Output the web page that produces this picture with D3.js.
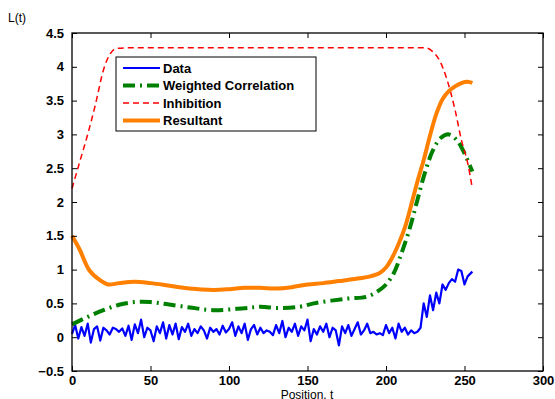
<!DOCTYPE html>
<html>
<head>
<meta charset="utf-8">
<script src="https://cdn.jsdelivr.net/npm/d3@7"></script>
<style>
  body { margin: 0; background: #fff; }
  text { font-family: "Liberation Sans", Arial, sans-serif; }
</style>
</head>
<body>
<svg id="chart"></svg>
<script>
// x positions of the noisy data samples
let dataT = d3.range(0, 253, 2).concat([255])
let dataVals = [
  0.05, 0.18, -0.02, 0.15, 0.02, 0.2, -0.08, 0.12, 0.16, -0.05,
  0.14, 0.1, 0.04, 0.14, 0.12, 0.08, 0.13, 0.02, 0.17, -0.04,
  0.19, 0.06, 0.26, 0.0, 0.14, 0.1, -0.06, 0.16, 0.06, 0.22,
  -0.02, 0.18, 0.04, 0.2, -0.03, 0.15, 0.08, 0.2, 0.02, 0.12,
  0.06, 0.16, 0.1, -0.02, 0.14, 0.08, 0.12, 0.04, 0.17, 0.07,
  0.12, 0.22, 0.02, 0.16, 0.06, 0.2, -0.04, 0.12, 0.18, 0.04,
  0.14, 0.06, 0.1, 0.08, 0.03, 0.18, 0.06, 0.24, 0.0, 0.14,
  0.08, 0.2, 0.02, 0.16, 0.1, 0.26, -0.06, 0.12, 0.04, 0.16,
  0.08, 0.2, 0.0, 0.14, 0.1, -0.12, 0.16, 0.06, 0.18, 0.02,
  0.12, 0.22, 0.04, 0.1, 0.2, 0.06, 0.08, 0.04, 0.06, 0.03,
  0.18, 0.06, 0.14, -0.02, 0.2, 0.08, 0.14, 0.04, 0.1, 0.06,
  0.08, 0.14, 0.5, 0.3, 0.62, 0.4, 0.66, 0.5, 0.78, 0.7,
  0.8, 0.86, 0.82, 1.0, 0.98, 0.78, 0.9, 0.97
]

// smooth curves, read at a few positions
let corrT = [0, 10, 20, 30, 40, 50, 60, 75, 90, 110, 120, 132, 145, 154, 175, 188, 196, 200, 205, 210, 215, 220, 225, 230, 235, 240, 245, 250, 255]
let corrVals = [0.19, 0.3, 0.4, 0.48, 0.52, 0.52, 0.49, 0.44, 0.4, 0.43, 0.45, 0.43, 0.45, 0.5, 0.57, 0.6, 0.7, 0.78, 0.95, 1.25, 1.6, 2.03, 2.45, 2.77, 2.95, 3.0, 2.92, 2.72, 2.45]

let inhibT = [0, 5, 10, 15, 20, 24, 28, 35, 225, 230, 234, 239, 244, 248, 252, 255]
let inhibVals = [2.2, 2.6, 3.0, 3.45, 3.95, 4.18, 4.27, 4.28, 4.28, 4.22, 4.1, 3.8, 3.36, 2.92, 2.58, 2.2]

let resT = [0, 5, 11, 18, 23, 30, 40, 50, 60, 75, 90, 100, 110, 120, 130, 140, 150, 160, 170, 180, 190, 196, 200, 204, 208, 212, 216, 220, 224, 228, 232, 236, 240, 244, 248, 252, 255]
let resVals = [1.5, 1.29, 0.99, 0.84, 0.78, 0.8, 0.82, 0.8, 0.77, 0.72, 0.7, 0.71, 0.73, 0.73, 0.72, 0.74, 0.78, 0.8, 0.83, 0.86, 0.9, 0.95, 1.03, 1.18, 1.38, 1.62, 1.95, 2.3, 2.62, 2.98, 3.3, 3.52, 3.64, 3.71, 3.76, 3.78, 3.76]

let xTicks = [0, 50, 100, 150, 200, 250, 300]
let yTicks = [-0.5, 0, 0.5, 1, 1.5, 2, 2.5, 3, 3.5, 4, 4.5]
let legendNames = ["Data", "Weighted Correlation", "Inhibition", "Resultant"]

let svg = d3.select("#chart").attr("width", 555).attr("height", 399)
let box = {left: 72, right: 543, top: 33, bottom: 371}

let x = d3.scaleLinear().domain([0, 300]).range([box.left, box.right])
let y = d3.scaleLinear().domain([-0.5, 4.5]).range([box.bottom, box.top])

// series styles
let styles = [
    {color: "#0000ff", width: 2.2, dash: null},
    {color: "#008000", width: 4, dash: "12,5,2,5"},
    {color: "#ff0000", width: 1.5, dash: "6,4"},
    {color: "#ff8000", width: 4, dash: null}
]

function drawSeries(ts, vals, st, curve) {
    let pts = ts.map((t, i) => [t, vals[i]])
    svg.append("path")
        .datum(pts)
        .attr("fill", "none")
        .attr("stroke", st.color)
        .attr("stroke-width", st.width)
        .attr("stroke-dasharray", st.dash)
        .attr("stroke-linejoin", "round")
        .attr("d", d3.line().x(d => x(d[0])).y(d => y(d[1])).curve(curve))
}

drawSeries(dataT, dataVals, styles[0], d3.curveLinear)
drawSeries(corrT, corrVals, styles[1], d3.curveCatmullRom)
drawSeries(inhibT, inhibVals, styles[2], d3.curveMonotoneX)
drawSeries(resT, resVals, styles[3], d3.curveCatmullRom)

// axes: ticks inside, on all four sides
let tick = 5
let xAxisB = d3.axisBottom(x).tickValues(xTicks).tickSizeInner(-tick).tickSizeOuter(0).tickPadding(5)
let xAxisT = d3.axisTop(x).tickValues(xTicks).tickSizeInner(-tick).tickSizeOuter(0).tickFormat("")
let yAxisL = d3.axisLeft(y).tickValues(yTicks).tickSizeInner(-tick).tickSizeOuter(0).tickPadding(8).tickFormat(d => d < 0 ? "\u22120.5" : d3.format("")(d))
let yAxisR = d3.axisRight(y).tickValues(yTicks).tickSizeInner(-tick).tickSizeOuter(0).tickFormat("")

svg.append("g").attr("transform", "translate(0," + box.bottom + ")").call(xAxisB)
svg.append("g").attr("transform", "translate(0," + box.top + ")").call(xAxisT)
svg.append("g").attr("transform", "translate(" + box.left + ",0)").call(yAxisL)
svg.append("g").attr("transform", "translate(" + box.right + ",0)").call(yAxisR)

svg.selectAll(".domain").remove()
svg.selectAll(".tick line").attr("stroke", "#000")
svg.selectAll(".tick text")
    .style("font-family", "'Liberation Sans', Arial, sans-serif")
    .style("font-size", "13px")
    .style("font-weight", "bold")
    .attr("fill", "#000")

svg.append("rect")
    .attr("x", box.left).attr("y", box.top)
    .attr("width", box.right - box.left).attr("height", box.bottom - box.top)
    .attr("fill", "none").attr("stroke", "#000").attr("stroke-width", 1.3)

// axis labels
svg.append("text").attr("x", 8).attr("y", 22).text("L(t)").style("font-size", "12px")
svg.append("text").attr("x", 307).attr("y", 399).attr("text-anchor", "middle")
    .text("Position, t").style("font-size", "12px")

// legend
let lg = svg.append("g")
lg.append("rect").attr("x", 116).attr("y", 57).attr("width", 200).attr("height", 74)
    .attr("fill", "#fff").attr("stroke", "#000").attr("stroke-width", 1)
legendNames.forEach((name, i) => {
    let ly = 68 + i * 17.5
    lg.append("line").attr("x1", 123).attr("x2", 160).attr("y1", ly).attr("y2", ly)
        .attr("stroke", styles[i].color).attr("stroke-width", styles[i].width)
        .attr("stroke-dasharray", styles[i].dash)
    lg.append("text").attr("x", 163).attr("y", ly).attr("dy", "0.35em")
        .text(name).style("font-size", "13px").style("font-weight", "bold")
})
</script>
</body>
</html>
